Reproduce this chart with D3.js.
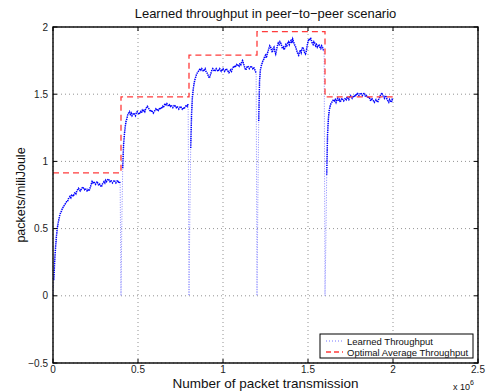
<!DOCTYPE html>
<html lang="en">
<head>
<meta charset="UTF-8">
<title>Learned throughput in peer-to-peer scenario</title>
<script src="https://d3js.org/d3.v7.min.js"></script>
<style>
  body { margin: 0; background: #fff; }
  svg { font-family: "Liberation Sans", Arial, sans-serif; }
</style>
</head>
<body>
<svg width="489" height="392"></svg>
<script>
// x values are in units of 10^6 packet transmissions
const xTicks = [0, 0.5, 1, 1.5, 2, 2.5];
const yTicks = [-0.5, 0, 0.5, 1, 1.5, 2];

// learned throughput, one sample every 0.005 (x10^6), one list per scenario phase
const sampleStep = 0.005;
const phaseStarts = [0, 0.4, 0.8, 1.2, 1.6];
const learned1 = [
  0.00, 0.12, 0.26, 0.36, 0.44, 0.50, 0.54, 0.57, 0.60, 0.62,
  0.63, 0.65, 0.66, 0.67, 0.68, 0.69, 0.70, 0.70, 0.72, 0.73,
  0.74, 0.73, 0.75, 0.75, 0.74, 0.76, 0.77, 0.76, 0.78, 0.79,
  0.80, 0.79, 0.78, 0.79, 0.80, 0.81, 0.80, 0.79, 0.80, 0.79,
  0.78, 0.79, 0.78, 0.79, 0.81, 0.83, 0.85, 0.84, 0.85, 0.84,
  0.83, 0.84, 0.85, 0.83, 0.82, 0.83, 0.82, 0.81, 0.83, 0.84,
  0.85, 0.84, 0.86, 0.85, 0.86, 0.87, 0.86, 0.85, 0.86, 0.85,
  0.84, 0.85, 0.86, 0.85, 0.84, 0.85, 0.86, 0.84, 0.85, 0.84
];
const learned2 = [
  0.00, 0.55, 0.95, 1.12, 1.20, 1.26, 1.30, 1.32, 1.35, 1.36,
  1.37, 1.35, 1.36, 1.34, 1.35, 1.36, 1.35, 1.34, 1.36, 1.37,
  1.36, 1.35, 1.36, 1.37, 1.36, 1.38, 1.37, 1.38, 1.37, 1.39,
  1.40, 1.41, 1.40, 1.39, 1.38, 1.37, 1.38, 1.37, 1.36, 1.37,
  1.38, 1.39, 1.38, 1.39, 1.38, 1.39, 1.40, 1.39, 1.40, 1.41,
  1.40, 1.42, 1.43, 1.42, 1.43, 1.42, 1.41, 1.42, 1.41, 1.42,
  1.41, 1.40, 1.41, 1.42, 1.41, 1.40, 1.41, 1.40, 1.39, 1.40,
  1.41, 1.40, 1.39, 1.40, 1.39, 1.40, 1.41, 1.42, 1.41, 1.43
];
const learned3 = [
  0.00, 0.60, 1.10, 1.35, 1.48, 1.54, 1.58, 1.61, 1.63, 1.65,
  1.66, 1.67, 1.68, 1.69, 1.68, 1.69, 1.68, 1.67, 1.68, 1.69,
  1.67, 1.66, 1.65, 1.63, 1.62, 1.64, 1.66, 1.68, 1.69, 1.68,
  1.67, 1.68, 1.69, 1.68, 1.67, 1.68, 1.69, 1.68, 1.67, 1.68,
  1.69, 1.68, 1.67, 1.68, 1.69, 1.68, 1.67, 1.66, 1.67, 1.68,
  1.67, 1.69, 1.70, 1.71, 1.70, 1.71, 1.72, 1.71, 1.72, 1.71,
  1.73, 1.72, 1.74, 1.75, 1.73, 1.71, 1.69, 1.68, 1.70, 1.71,
  1.70, 1.69, 1.70, 1.71, 1.70, 1.69, 1.70, 1.69, 1.67, 1.66
];
const learned4 = [
  0.00, 0.70, 1.30, 1.60, 1.68, 1.71, 1.73, 1.75, 1.76, 1.78,
  1.79, 1.77, 1.80, 1.82, 1.84, 1.86, 1.85, 1.83, 1.81, 1.84,
  1.85, 1.82, 1.80, 1.83, 1.86, 1.88, 1.87, 1.89, 1.88, 1.86,
  1.84, 1.85, 1.83, 1.85, 1.87, 1.86, 1.88, 1.89, 1.87, 1.89,
  1.90, 1.88, 1.91, 1.89, 1.87, 1.86, 1.84, 1.82, 1.80, 1.79,
  1.81, 1.83, 1.81, 1.84, 1.85, 1.83, 1.81, 1.80, 1.82, 1.86,
  1.89, 1.91, 1.90, 1.92, 1.90, 1.88, 1.87, 1.89, 1.88, 1.86,
  1.87, 1.85, 1.86, 1.87, 1.85, 1.84, 1.86, 1.85, 1.83, 1.82
];
const learned5 = [
  0.00, 0.40, 0.90, 1.20, 1.32, 1.38, 1.41, 1.43, 1.44, 1.45,
  1.46, 1.45, 1.46, 1.44, 1.46, 1.47, 1.45, 1.46, 1.44, 1.46,
  1.47, 1.46, 1.45, 1.46, 1.47, 1.46, 1.48, 1.47, 1.46, 1.48,
  1.49, 1.48, 1.47, 1.48, 1.49, 1.48, 1.50, 1.49, 1.51, 1.50,
  1.49, 1.50, 1.51, 1.50, 1.49, 1.50, 1.51, 1.49, 1.48, 1.49,
  1.48, 1.47, 1.48, 1.46, 1.45, 1.47, 1.46, 1.45, 1.44, 1.45,
  1.46, 1.45, 1.44, 1.46, 1.47, 1.49, 1.50, 1.51, 1.49, 1.48,
  1.47, 1.49, 1.48, 1.46, 1.45, 1.44, 1.46, 1.45, 1.44, 1.46,
  1.45
];

// optimal average throughput per phase (step function)
const optimalStarts = [0, 0.4, 0.8, 1.2, 1.6, 2.0];
const optimalValues = [0.915, 1.48, 1.79, 1.965, 1.48, 1.48];

const legendLabels = ["Learned Throughput", "Optimal Average Throughput"];

const margin = { top: 27, right: 11, bottom: 29, left: 53 };
const W = 489, H = 392;

const svg = d3.select("svg");

const x = d3.scaleLinear().domain([0, 2.5]).range([margin.left, W - margin.right]);
const y = d3.scaleLinear().domain([-0.5, 2]).range([H - margin.bottom, margin.top]);

const fmt = v => String(v).replace("-", "\u2212");

// grid
svg.append("g").selectAll("line").data(xTicks).join("line")
  .attr("x1", d => x(d)).attr("x2", d => x(d))
  .attr("y1", y(-0.5)).attr("y2", y(2))
  .attr("stroke", "#777").attr("stroke-width", 0.8).attr("stroke-dasharray", "1,3");
svg.append("g").selectAll("line").data(yTicks).join("line")
  .attr("y1", d => y(d)).attr("y2", d => y(d))
  .attr("x1", x(0)).attr("x2", x(2.5))
  .attr("stroke", "#777").attr("stroke-width", 0.8).attr("stroke-dasharray", "1,3");

// learned throughput series: [x, value, phase, index in phase]
const learnedPhases = [learned1, learned2, learned3, learned4, learned5];
const learned = [];
learnedPhases.forEach((arr, k) => {
  arr.forEach((v, i) => learned.push([phaseStarts[k] + i * sampleStep, v, k, i]));
});

const line = d3.line().x(d => x(d[0])).y(d => y(d[1]));

// whole trace, faint dots (shows the resets down to zero)
svg.append("path")
  .datum(learned)
  .attr("d", line)
  .attr("fill", "none")
  .attr("stroke", "#8a8aff")
  .attr("stroke-width", 1)
  .attr("stroke-dasharray", "1,1.5");

// dense part of the trace, darker
svg.append("path")
  .datum(learned)
  .attr("d", line.defined(d => d[3] > 1 || (d[2] === 0 && d[3] > 0)))
  .attr("fill", "none")
  .attr("stroke", "#0000ff")
  .attr("stroke-width", 1.5)
  .attr("stroke-dasharray", "1.3,0.9");

// optimal average throughput
const optimal = optimalStarts.map((s, i) => [s, optimalValues[i]]);
svg.append("path")
  .datum(optimal)
  .attr("d", d3.line().x(d => x(d[0])).y(d => y(d[1])).curve(d3.curveStepAfter))
  .attr("fill", "none")
  .attr("stroke", "#ff3b3b")
  .attr("stroke-width", 1.3)
  .attr("stroke-dasharray", "6,4");

// box and inward ticks on all sides
svg.append("rect")
  .attr("x", x(0)).attr("y", y(2))
  .attr("width", x(2.5) - x(0)).attr("height", y(-0.5) - y(2))
  .attr("fill", "none").attr("stroke", "#000").attr("stroke-width", 1.4);

const ticks = svg.append("g").attr("stroke", "#000").attr("stroke-width", 1);
xTicks.forEach(t => {
  ticks.append("line").attr("x1", x(t)).attr("x2", x(t)).attr("y1", y(-0.5)).attr("y2", y(-0.5) - 4);
  ticks.append("line").attr("x1", x(t)).attr("x2", x(t)).attr("y1", y(2)).attr("y2", y(2) + 4);
});
yTicks.forEach(t => {
  ticks.append("line").attr("y1", y(t)).attr("y2", y(t)).attr("x1", x(0)).attr("x2", x(0) + 4);
  ticks.append("line").attr("y1", y(t)).attr("y2", y(t)).attr("x1", x(2.5)).attr("x2", x(2.5) - 4);
});

// tick labels
svg.append("g").selectAll("text").data(xTicks).join("text")
  .attr("x", d => x(d)).attr("y", 373)
  .attr("text-anchor", "middle").attr("font-size", 10).attr("fill", "#222")
  .text(fmt);
svg.append("g").selectAll("text").data(yTicks).join("text")
  .attr("x", x(0) - 5).attr("y", d => y(d) + 3.5)
  .attr("text-anchor", "end").attr("font-size", 10).attr("fill", "#222")
  .text(fmt);

// title and axis labels
svg.append("text")
  .attr("x", (x(0) + x(2.5)) / 2).attr("y", 18)
  .attr("text-anchor", "middle").attr("font-size", 13).attr("fill", "#111")
  .text("Learned throughput in peer\u2212to\u2212peer scenario");

svg.append("text")
  .attr("x", (x(0) + x(2.5)) / 2).attr("y", 388)
  .attr("text-anchor", "middle").attr("font-size", 13.5).attr("fill", "#111")
  .text("Number of packet transmission");

svg.append("text")
  .attr("transform", `translate(25,${(y(-0.5) + y(2)) / 2}) rotate(-90)`)
  .attr("text-anchor", "middle").attr("font-size", 12.5).attr("fill", "#111")
  .text("packets/miliJoule");

const expo = svg.append("text").attr("x", 453).attr("y", 390).attr("font-size", 9).attr("fill", "#111");
expo.append("tspan").text("x 10");
expo.append("tspan").attr("dy", -5).attr("font-size", 7).text("6");

// legend
const lg = svg.append("g");
lg.append("rect")
  .attr("x", 320).attr("y", 334).attr("width", 153).attr("height", 24)
  .attr("fill", "#fff").attr("stroke", "#000").attr("stroke-width", 1);
lg.append("line").attr("x1", 326).attr("x2", 343).attr("y1", 341).attr("y2", 341)
  .attr("stroke", "#7777ff").attr("stroke-width", 1).attr("stroke-dasharray", "1,2");
lg.append("line").attr("x1", 326).attr("x2", 343).attr("y1", 352).attr("y2", 352)
  .attr("stroke", "#ff3b3b").attr("stroke-width", 1.3).attr("stroke-dasharray", "5,3");
lg.selectAll("text").data(legendLabels).join("text")
  .attr("x", 347).attr("y", (d, i) => 344.5 + i * 11)
  .attr("font-size", 9.5).attr("fill", "#111")
  .text(d => d);
</script>
</body>
</html>
